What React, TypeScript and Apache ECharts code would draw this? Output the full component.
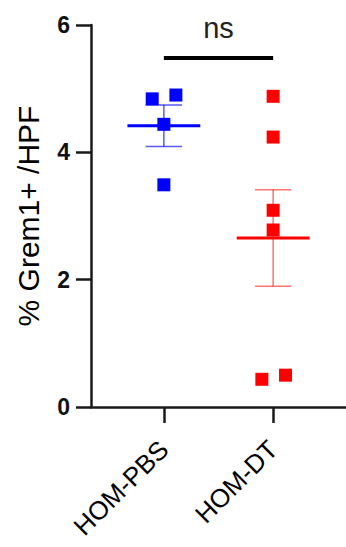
import React, { useEffect, useRef } from "react";
import * as echarts from "echarts";

// categories and their positions on the (hidden-scale) x axis
const categories = ["HOM-PBS", "HOM-DT"];
const categoryPos = [2, 5];

// individual values (jittered x positions, y values)
const pbsX = [1.68, 2.33, 2.0, 2.0];
const pbsY = [4.84, 4.9, 4.44, 3.49];
const dtX = [5.0, 5.0, 5.0, 5.0, 4.69, 5.34];
const dtY = [4.88, 4.24, 3.09, 2.78, 0.435, 0.5];

// y-axis ticks
const yTicks = [0, 2, 4, 6];

// significance bracket: from x, to x, bar y, label y
const sigBracket = [2, 5, 5.48, 5.95];
const sigLabel = "ns";

const groupColors = ["#0000ff", "#ff0000"];
const whiskerColors = ["rgba(0,0,255,0.65)", "rgba(255,0,0,0.55)"];

function meanSem(v: number[]) {
  const n = v.length;
  const m = v.reduce((a, b) => a + b, 0) / n;
  const sd = Math.sqrt(v.reduce((a, b) => a + (b - m) * (b - m), 0) / (n - 1));
  return [m, sd / Math.sqrt(n)];
}

export default function App() {
  const ref = useRef<HTMLDivElement>(null);
  useEffect(() => {
    document.body.style.margin = "0";
    const chart = echarts.init(ref.current!, undefined, { renderer: "svg" });
    const [m1, s1] = meanSem(pbsY);
    const [m2, s2] = meanSem(dtY);
    const summary = [
      [categoryPos[0], m1, s1, 0],
      [categoryPos[1], m2, s2, 1],
    ];
    const font = "'Liberation Sans', Arial, sans-serif";
    chart.setOption({
      animation: false,
      grid: { left: 91, right: 0, top: 25, bottom: 140 },
      xAxis: {
        type: "value",
        min: 0,
        max: 7,
        splitLine: { show: false },
        axisLine: { show: true, lineStyle: { color: "#1a1a1a", width: 2.5 } },
        axisTick: {
          show: true,
          customValues: categoryPos,
          length: 16,
          lineStyle: { color: "#1a1a1a", width: 2.5 },
        },
        axisLabel: {
          customValues: categoryPos,
          rotate: 45,
          margin: 38,
          fontSize: 26,
          fontFamily: font,
          color: "#000",
          formatter: (v: number) => {
            const i = categoryPos.indexOf(v);
            return i >= 0 ? categories[i] : "";
          },
        },
      },
      yAxis: {
        type: "value",
        min: yTicks[0],
        max: yTicks[yTicks.length - 1],
        interval: 2,
        name: "% Grem1+ /HPF",
        nameLocation: "middle",
        nameGap: 48,
        nameTextStyle: { fontSize: 30, fontFamily: font, color: "#000" },
        splitLine: { show: false },
        axisLine: { show: true, lineStyle: { color: "#1a1a1a", width: 2.5 } },
        axisTick: { show: true, length: 15, lineStyle: { color: "#1a1a1a", width: 2.5 } },
        axisLabel: {
          margin: 21,
          fontSize: 23,
          fontWeight: "bold",
          fontFamily: font,
          color: "#111",
        },
      },
      series: [
        {
          type: "custom",
          clip: false,
          z: 1,
          data: summary,
          renderItem: (params: any, api: any) => {
            const x = api.value(0);
            const m = api.value(1);
            const s = api.value(2);
            const ci = api.value(3);
            const pMid = api.coord([x, m]);
            const pL = api.coord([x - 1, m]);
            const pR = api.coord([x + 1, m]);
            const pTop = api.coord([x, m + s]);
            const pBot = api.coord([x, m - s]);
            const cL = api.coord([x - 0.5, m + s]);
            const cR = api.coord([x + 0.5, m + s]);
            const bL = api.coord([x - 0.5, m - s]);
            const bR = api.coord([x + 0.5, m - s]);
            const wStyle = { stroke: whiskerColors[ci], lineWidth: 1.5 };
            return {
              type: "group",
              children: [
                { type: "line", shape: { x1: pTop[0], y1: pTop[1], x2: pBot[0], y2: pBot[1] }, style: wStyle },
                { type: "line", shape: { x1: cL[0], y1: cL[1], x2: cR[0], y2: cR[1] }, style: wStyle },
                { type: "line", shape: { x1: bL[0], y1: bL[1], x2: bR[0], y2: bR[1] }, style: wStyle },
                {
                  type: "line",
                  shape: { x1: pL[0], y1: pMid[1], x2: pR[0], y2: pMid[1] },
                  style: { stroke: groupColors[ci], lineWidth: 3 },
                },
              ],
            };
          },
        },
        {
          type: "scatter",
          z: 2,
          symbol: "rect",
          symbolSize: 13,
          itemStyle: { color: groupColors[0], opacity: 1 },
          data: pbsX.map((x, i) => [x, pbsY[i]]),
        },
        {
          type: "scatter",
          z: 2,
          symbol: "rect",
          symbolSize: 13,
          itemStyle: { color: groupColors[1], opacity: 1 },
          data: dtX.map((x, i) => [x, dtY[i]]),
        },
        {
          type: "custom",
          clip: false,
          data: [sigBracket],
          renderItem: (params: any, api: any) => {
            const a = api.coord([api.value(0), api.value(2)]);
            const b = api.coord([api.value(1), api.value(2)]);
            const t = api.coord([(api.value(0) + api.value(1)) / 2, api.value(3)]);
            return {
              type: "group",
              children: [
                {
                  type: "line",
                  shape: { x1: a[0], y1: a[1], x2: b[0], y2: b[1] },
                  style: { stroke: "#000", lineWidth: 4 },
                },
                {
                  type: "text",
                  style: {
                    text: sigLabel,
                    x: t[0],
                    y: t[1],
                    textAlign: "center",
                    textVerticalAlign: "middle",
                    fontSize: 29,
                    fontFamily: font,
                    fill: "#222",
                  },
                },
              ],
            };
          },
        },
      ],
    });
    return () => chart.dispose();
  }, []);
  return <div ref={ref} style={{ width: 346, height: 547 }} />;
}
